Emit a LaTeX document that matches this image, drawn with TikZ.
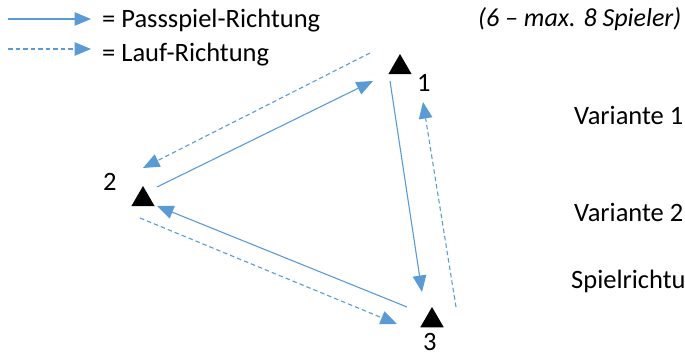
\documentclass[tikz,border=0pt]{standalone}
\usepackage{fontspec}
\setmainfont{Carlito}
\usetikzlibrary{arrows.meta,shapes.geometric}
\definecolor{arrowblue}{HTML}{5B9BD5}
\begin{document}
\begin{tikzpicture}[x=1pt,y=-1pt,
  pass/.style={draw=arrowblue, line width=1.1pt, -{Triangle[length=16.5pt,width=13.5pt]}},
  lauf/.style={pass, dash pattern=on 4.5pt off 3pt},
  player/.style={regular polygon, regular polygon sides=3, fill=black, draw=none, inner sep=0pt, minimum size=27pt},
  txt/.style={font=\fontsize{26.5}{31}\selectfont, anchor=base west, inner sep=0pt},
]
\useasboundingbox (0,0) rectangle (685,358);

% legend
\coordinate (ls1) at (8,19);
\coordinate (le1) at (91,19);
\coordinate (ls2) at (8,49);
\coordinate (le2) at (91,49);
\draw[pass] (ls1) -- (le1);
\draw[lauf] (ls2) -- (le2);
\node[txt] (t1) at (102,28) {= Passspiel-Richtung};
\node[txt] (t2) at (102,62) {= Lauf-Richtung};
\node[txt, font=\fontsize{26}{31}\selectfont\itshape] (t3) at (478,27) {(6 – max. 8 Spieler)};

% players
\node[player] (p1) at (400,67.5) {};
\node[player] (p2) at (143,199.5) {};
\node[player] (p3) at (432,320.5) {};
\node[txt] (l1) at (417,92) {1};
\node[txt] (l2) at (103,191) {2};
\node[txt] (l3) at (423,350) {3};

% arrow ends
\coordinate (a21s) at (157,187);  \coordinate (a21e) at (373,81);
\coordinate (a12s) at (370,53);   \coordinate (a12e) at (143,168);
\coordinate (a13s) at (390,81);   \coordinate (a13e) at (422,292);
\coordinate (a31s) at (456,307);  \coordinate (a31e) at (423,102);
\coordinate (a32s) at (407,307);  \coordinate (a32e) at (157,206);
\coordinate (a23s) at (140,218);  \coordinate (a23e) at (397,324);

\draw[pass] (a21s) -- (a21e);
\draw[lauf] (a12s) -- (a12e);
\draw[pass] (a13s) -- (a13e);
\draw[lauf] (a31s) -- (a31e);
\draw[pass] (a32s) -- (a32e);
\draw[lauf] (a23s) -- (a23e);

% right texts
\node[txt] (v1) at (574,125) {Variante 1};
\node[txt] (v2) at (574,222) {Variante 2};
\node[txt] (sr) at (571,288) {Spielrichtu};
\end{tikzpicture}
\end{document}
